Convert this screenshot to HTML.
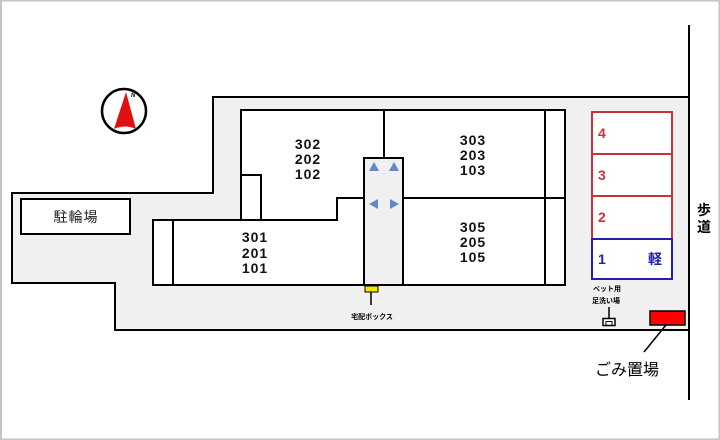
<!DOCTYPE html>
<html><head><meta charset="utf-8"><style>
html,body{margin:0;padding:0;background:#fff;}
svg{display:block;}
text{font-family:"Liberation Sans","Noto Sans CJK JP",sans-serif;}
</style></head><body>
<svg width="720" height="440" viewBox="0 0 720 440" xmlns="http://www.w3.org/2000/svg">
<rect x="0" y="0" width="720" height="440" fill="#fff"/>
<rect x="1" y="0.5" width="718.5" height="439" fill="none" stroke="#c4c4c4" stroke-width="2"/>
<!-- lot -->
<polygon points="12,193 213,193 213,97 689,97 689,330 115,330 115,283 12,283" fill="#f0f0f0" stroke="#000" stroke-width="2"/>
<!-- road line -->
<line x1="689" y1="25" x2="689" y2="400" stroke="#000" stroke-width="2"/>
<!-- bicycle parking -->
<rect x="21" y="199" width="109" height="35" fill="#fff" stroke="#000" stroke-width="2"/>
<text x="76" y="222" font-size="14" text-anchor="middle" letter-spacing="1" fill="#222">駐輪場</text>
<!-- compass -->
<circle cx="124" cy="111" r="22" fill="#fff" stroke="#000" stroke-width="2.5"/>
<path d="M126,92 L114,129 Q125,124 136,129 Z" fill="#e01010"/>
<text x="131" y="97" font-size="6" font-style="italic" font-weight="bold">N</text>
<!-- building -->
<polygon points="241,110 565,110 565,285 153,285 153,220 241,220" fill="#fff" stroke="#000" stroke-width="2"/>
<g stroke="#000" stroke-width="2" fill="none">
<line x1="173" y1="220" x2="173" y2="285"/>
<polyline points="241,175 261,175 261,220"/>
<polyline points="153,220 337,220 337,198 364,198"/>
<line x1="384" y1="110" x2="384" y2="158"/>
<line x1="403" y1="198" x2="565" y2="198"/>
<line x1="545" y1="110" x2="545" y2="285"/>
</g>
<rect x="364" y="158" width="39" height="127" fill="#f0f0f0" stroke="#000" stroke-width="2"/>
<!-- arrows -->
<g fill="#5b8cc4">
<polygon points="374,162 369,171 379,171"/>
<polygon points="394,162 389,171 399,171"/>
<polygon points="369,204 378,199 378,209"/>
<polygon points="399,204 390,199 390,209"/>
</g>
<!-- unit numbers -->
<g font-size="14" font-weight="bold" text-anchor="middle" fill="#111" letter-spacing="1">
<text x="308" y="149">302</text><text x="308" y="164">202</text><text x="308" y="179">102</text>
<text x="473" y="145">303</text><text x="473" y="160">203</text><text x="473" y="175">103</text>
<text x="473" y="232">305</text><text x="473" y="247">205</text><text x="473" y="262">105</text>
<text x="255" y="242">301</text><text x="255" y="258">201</text><text x="255" y="273">101</text>
</g>
<!-- delivery box -->
<rect x="365" y="286" width="13" height="6" fill="#f4e400" stroke="#000" stroke-width="1"/>
<line x1="371" y1="292" x2="371" y2="305" stroke="#000" stroke-width="1.5"/>
<text x="372" y="319" font-size="7" font-weight="bold" text-anchor="middle">宅配ボックス</text>
<!-- parking -->
<g fill="#fff" stroke="#c8323c" stroke-width="2">
<rect x="592" y="112" width="80" height="42"/>
<rect x="592" y="154" width="80" height="42"/>
<rect x="592" y="196" width="80" height="43"/>
</g>
<rect x="592" y="239" width="80" height="40" fill="#fff" stroke="#2020a8" stroke-width="2"/>
<g font-size="14" font-weight="bold" fill="#c8323c">
<text x="598" y="138">4</text>
<text x="598" y="180">3</text>
<text x="598" y="222">2</text>
</g>
<text x="598" y="264" font-size="14" font-weight="bold" fill="#2020a8">1</text>
<text x="655" y="264" font-size="14" font-weight="bold" fill="#2020a8" text-anchor="middle">軽</text>
<!-- road label -->
<text x="704" y="215" font-size="14" font-weight="bold" text-anchor="middle">歩</text>
<text x="704" y="232" font-size="14" font-weight="bold" text-anchor="middle">道</text>
<!-- pet foot wash -->
<text x="607" y="291" font-size="7" font-weight="bold" text-anchor="middle">ペット用</text>
<text x="606" y="303" font-size="7" font-weight="bold" text-anchor="middle">足洗い場</text>
<line x1="609" y1="307" x2="609" y2="318" stroke="#000" stroke-width="1.5"/>
<rect x="603" y="318.5" width="12" height="7" fill="#fff" stroke="#000" stroke-width="1.5"/>
<path d="M606,325 L606,321.5 L612,321.5 L612,325" fill="none" stroke="#000" stroke-width="1"/>
<!-- garbage -->
<rect x="650" y="311" width="35" height="14" fill="#ff0000" stroke="#000" stroke-width="1.5"/>
<line x1="666" y1="325" x2="644" y2="352" stroke="#000" stroke-width="1.5"/>
<text x="627" y="375" font-size="16" text-anchor="middle">ごみ置場</text>
</svg>
</body></html>
